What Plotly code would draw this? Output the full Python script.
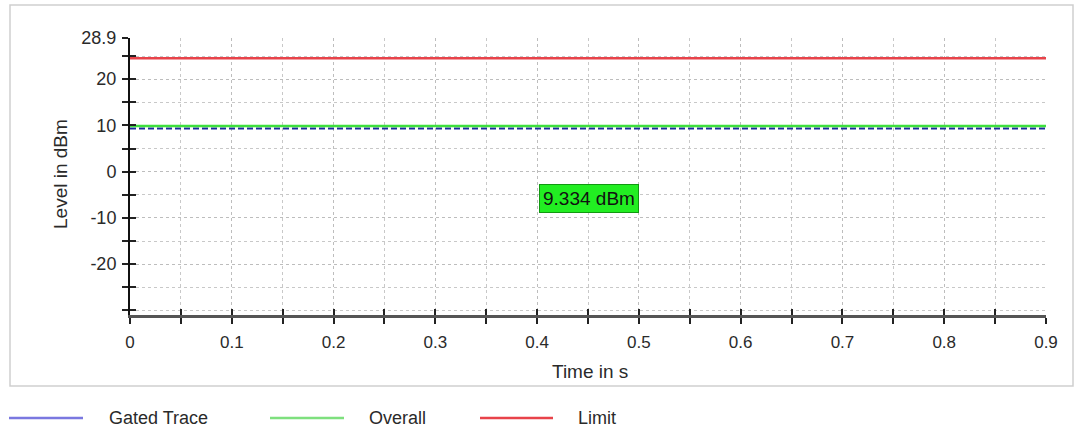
import plotly.graph_objects as go

# Sweep time axis (s) and measured levels (dBm)
time_s = [0.0, 0.9]
gated_trace = [9.334, 9.334]
overall = [9.85, 9.85]
limit = [24.5, 24.5]

x_ticks = [0, 0.1, 0.2, 0.3, 0.4, 0.5, 0.6, 0.7, 0.8, 0.9]
y_ticks = [-20, -10, 0, 10, 20, 28.9]
y_tick_text = ["-20", "-10", "0", "10", "20", "28.9"]
readout_text = "9.334 dBm"

series_names = ["Gated Trace", "Overall", "Limit"]
series_colors = ["#1c2a9c", "#3ee03e", "#e8434a"]
legend_colors = ["#7a78e0", "#7ee07e", "#e8434a"]

X_RANGE = [0, 0.9]
Y_RANGE = [-31, 28.9]
FONT = "Liberation Sans, Arial, sans-serif"
TXT = "#2a2a2a"

fig = go.Figure()

fig.add_trace(go.Scatter(x=time_s, y=gated_trace, mode="lines", name=series_names[0],
                         line=dict(color=series_colors[0], width=2, dash="6px,3px")))
fig.add_trace(go.Scatter(x=time_s, y=overall, mode="lines", name=series_names[1],
                         line=dict(color=series_colors[1], width=2.5)))
fig.add_trace(go.Scatter(x=time_s, y=limit, mode="lines", name=series_names[2],
                         line=dict(color=series_colors[2], width=2.5)))

# Readout box for the gated level
fig.add_annotation(x=0.451, y=-5.9, xref="x", yref="y", text=readout_text, showarrow=False,
                   bgcolor="#22ee22", bordercolor="#119911", borderwidth=1, borderpad=3,
                   font=dict(family=FONT, size=19, color="#111111"))

grid = dict(showgrid=True, gridcolor="#bdbdbd", griddash="dot", gridwidth=1)
minor_y = [-30, -25, -15, -5, 5, 15, 25]

fig.update_layout(
    width=1075, height=430,
    margin=dict(l=130, r=29, t=38, b=115),
    paper_bgcolor="white", plot_bgcolor="white",
    showlegend=False,
    font=dict(family=FONT, size=17, color=TXT),
    xaxis=dict(range=X_RANGE, tickvals=x_ticks, ticks="outside", ticklen=6, tickwidth=2,
               tickcolor="#222222", showline=True, linecolor="#555555", linewidth=3,
               zeroline=False, ticklabelstandoff=4, tickfont=dict(size=17),
               minor=dict(dtick=0.05, tick0=0, ticks="outside", ticklen=6, tickwidth=2,
                          tickcolor="#222222", showgrid=True, gridcolor="#c8c8c8",
                          griddash="dot"),
               **grid),
    yaxis=dict(range=Y_RANGE, tickvals=y_ticks, ticktext=y_tick_text, ticks="outside",
               ticklen=6, tickwidth=2, tickcolor="#222222", showline=True,
               linecolor="#111111", linewidth=2, zeroline=False, ticklabelstandoff=2,
               tickfont=dict(size=18),
               minor=dict(tickvals=minor_y, ticks="outside", ticklen=6,
                          tickwidth=2, tickcolor="#222222", showgrid=True,
                          gridcolor="#c8c8c8", griddash="dot"),
               **grid),
    # overlay axes supply the inner half of each tick so the marks cross the axis lines
    xaxis2=dict(range=X_RANGE, overlaying="x", anchor="y2", side="bottom", tickvals=x_ticks,
                ticks="inside", ticklen=6, tickwidth=2, tickcolor="#222222",
                showticklabels=False, showgrid=False, zeroline=False, showline=False,
                minor=dict(dtick=0.05, tick0=0, ticks="inside", ticklen=6, tickwidth=2,
                           tickcolor="#222222")),
    yaxis2=dict(range=Y_RANGE, overlaying="y", anchor="x2", side="left", tickvals=y_ticks,
                ticks="inside", ticklen=6, tickwidth=2, tickcolor="#222222",
                showticklabels=False, showgrid=False, zeroline=False, showline=False,
                minor=dict(tickvals=minor_y, ticks="inside", ticklen=6,
                           tickwidth=2, tickcolor="#222222")),
)
fig.add_trace(go.Scatter(x=[None], y=[None], xaxis="x2", yaxis="y2", showlegend=False,
                         hoverinfo="skip"))

# Pixel -> paper helpers for the frame, titles and legend row
PX0, PX1, PY0, PY1 = 130, 1046, 315, 38
def px(x):
    return (x - PX0) / (PX1 - PX0)
def py(y):
    return (PY0 - y) / (PY0 - PY1)

# Outer frame around the plot panel
fig.add_shape(type="rect", xref="paper", yref="paper", x0=px(10), x1=px(1073),
              y0=py(386), y1=py(5), line=dict(color="#cfcfcf", width=1.5), layer="below")

# Axis titles
fig.add_annotation(xref="paper", yref="paper", x=px(590), y=py(371), text="Time in s",
                   xanchor="center", yanchor="middle", showarrow=False,
                   font=dict(family=FONT, size=19, color=TXT))
fig.add_annotation(xref="paper", yref="paper", x=px(60), y=py(174), text="Level in dBm",
                   xanchor="center", yanchor="middle", textangle=-90, showarrow=False,
                   font=dict(family=FONT, size=19, color=TXT))

# Legend row
legend_items = [(9, 83, 107), (270, 344, 367), (480, 553, 576)]
for (x0, x1, tx), name, color in zip(legend_items, series_names, legend_colors):
    fig.add_shape(type="line", xref="paper", yref="paper", x0=px(x0), x1=px(x1),
                  y0=py(418), y1=py(418), line=dict(color=color, width=2.5))
    fig.add_annotation(xref="paper", yref="paper", x=px(tx), y=py(418), text=name,
                       xanchor="left", yanchor="middle", showarrow=False,
                       font=dict(family=FONT, size=18, color=TXT))

fig.write_html("out.html")
